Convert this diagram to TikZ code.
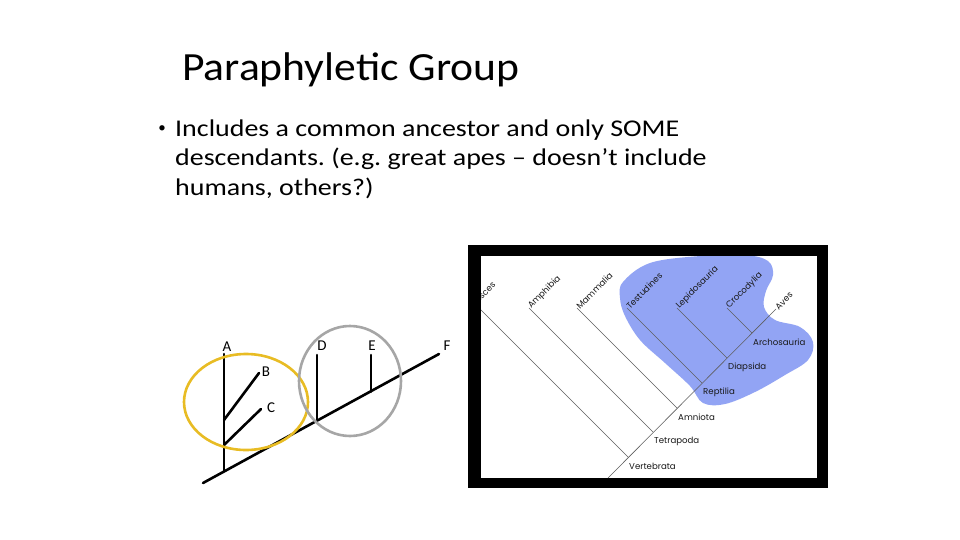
\documentclass[tikz,border=0pt]{standalone}
\usepackage{fontspec}
\usepackage{graphicx}
\setmainfont{Carlito}
\newfontfamily\cladefont{Poppins}
\usetikzlibrary{positioning}
\frenchspacing

\definecolor{ringyellow}{RGB}{232,188,36}
\definecolor{ringgray}{RGB}{166,166,166}
\definecolor{blobblue}{RGB}{146,164,244}
\definecolor{cladegray}{RGB}{95,95,95}
\definecolor{cladetext}{RGB}{25,25,25}

% slide text is set a little wider than Carlito
\newcommand{\widen}[2]{\scalebox{#1}[1]{#2}}

\begin{document}
\begin{tikzpicture}[
	x=1pt, y=-1pt,
	line cap=round
]
\tikzset{
    treeline/.style = {-, line width=2.6pt, black},
    ring/.style = {line width=2.6pt},
    letter/.style = {font=\fontsize{15}{18}\selectfont, inner sep=0pt},
    bodyline/.style = {anchor=base west, inner sep=0pt, font=\fontsize{24}{30}\selectfont},
    cladeline/.style = {-, line width=0.6pt, cladegray},
    cladelbl/.style = {font=\cladefont\fontsize{8.6}{9}\selectfont, text=cladetext, inner sep=1pt},
    tiplbl/.style = {cladelbl, rotate=45, anchor=west}
}
\useasboundingbox (0,0) rectangle (960,540);
%
% title and bullet text
\node[anchor=base west, inner sep=0pt, font=\fontsize{40}{48}\selectfont] (title) at (182,81) {\widen{1.09}{Paraphyletic Group}};
\node[anchor=center, inner sep=0pt, font=\fontsize{15}{15}\selectfont] (bullet) at (162,129) {\textbullet};
\node[bodyline] (line1) at (175,137) {\widen{1.165}{Includes a common ancestor and only SOME}};
\node[bodyline] (line2) at (175,166) {\widen{1.165}{descendants. (e.g. great apes -- doesn't include}};
\node[bodyline] (line3) at (175,195) {\widen{1.165}{humans, others?)}};
%
% simple tree on the left
\coordinate (root) at (203,483);
\coordinate (f) at (439,354);
\coordinate (a) at (224,354);
\coordinate (abase) at (224,471.5);
\coordinate (bj) at (224,420);
\coordinate (b) at (259,373);
\coordinate (cj) at (224,445);
\coordinate (c) at (261,409);
\coordinate (d) at (317,355);
\coordinate (dbase) at (317,420.7);
\coordinate (e) at (371,355);
\coordinate (ebase) at (371,391.8);
%
\draw[treeline] (root) -- (f);
\draw[treeline] (abase) -- (a);
\draw[treeline] (bj) -- (b);
\draw[treeline] (cj) -- (c);
\draw[treeline] (dbase) -- (d);
\draw[treeline] (ebase) -- (e);
%
\node[letter] (la) at (227,347) {A};
\node[letter] (lb) at (266,372) {B};
\node[letter] (lc) at (271,408) {C};
\node[letter] (ld) at (322,346) {D};
\node[letter] (le) at (372,346) {E};
\node[letter] (lf) at (447,346) {F};
%
\draw[ring, ringyellow] (246,402) ellipse [x radius=62, y radius=48];
\draw[ring, ringgray] (350,381) ellipse [x radius=51, y radius=55];
%
% cladogram picture on the right
\fill[black] (468,245) rectangle (828,488);
\fill[white] (481,256) rectangle (817,478);
\begin{scope}
\clip (481,256) rectangle (817,478);
\fill[blobblue] plot[smooth cycle, tension=0.6] coordinates {
    (623,282) (650,263) (700,256) (745,255) (768,261) (773,275) (766,291)
    (764,307) (775,320) (800,327) (813,342) (808,360) (785,375) (755,392)
    (725,404) (703,403) (690,386) (665,363) (640,340) (625,316) (620,298)};
%
\coordinate (stem) at (608,478);
\coordinate (vert) at (628,457);
\coordinate (tetra) at (653,432);
\coordinate (amnio) at (677,408);
\coordinate (rept) at (702,383);
\coordinate (diap) at (727,358);
\coordinate (archo) at (752,333);
\coordinate (aves) at (776,309);
\coordinate (pisces) at (474,303);
\coordinate (amphi) at (529,308);
\coordinate (mamma) at (577,308);
\coordinate (testu) at (627,308);
\coordinate (lepid) at (677,308);
\coordinate (croco) at (727,308);
%
\draw[cladeline] (stem) -- (aves);
\draw[cladeline] (vert) -- (pisces);
\draw[cladeline] (tetra) -- (amphi);
\draw[cladeline] (amnio) -- (mamma);
\draw[cladeline] (rept) -- (testu);
\draw[cladeline] (diap) -- (lepid);
\draw[cladeline] (archo) -- (croco);
%
\node[tiplbl] (lpisces) at (pisces) {Pisces};
\node[tiplbl] (lamphi) at (amphi) {Amphibia};
\node[tiplbl] (lmamma) at (mamma) {Mammalia};
\node[tiplbl] (ltestu) at (testu) {Testudines};
\node[tiplbl] (llepid) at (lepid) {Lepidosauria};
\node[tiplbl] (lcroco) at (croco) {Crocodylia};
\node[tiplbl] (laves) at (aves) {Aves};
%
\node[cladelbl, anchor=west] (lvert) at ([yshift=-9pt]vert) {Vertebrata};
\node[cladelbl, anchor=west] (ltetra) at ([yshift=-9pt]tetra) {Tetrapoda};
\node[cladelbl, anchor=west] (lamnio) at ([yshift=-9pt]amnio) {Amniota};
\node[cladelbl, anchor=west] (lrept) at ([yshift=-9pt]rept) {Reptilia};
\node[cladelbl, anchor=west] (ldiap) at ([yshift=-9pt]diap) {Diapsida};
\node[cladelbl, anchor=west] (larcho) at ([yshift=-9pt]archo) {Archosauria};
\end{scope}
\end{tikzpicture}
\end{document}
